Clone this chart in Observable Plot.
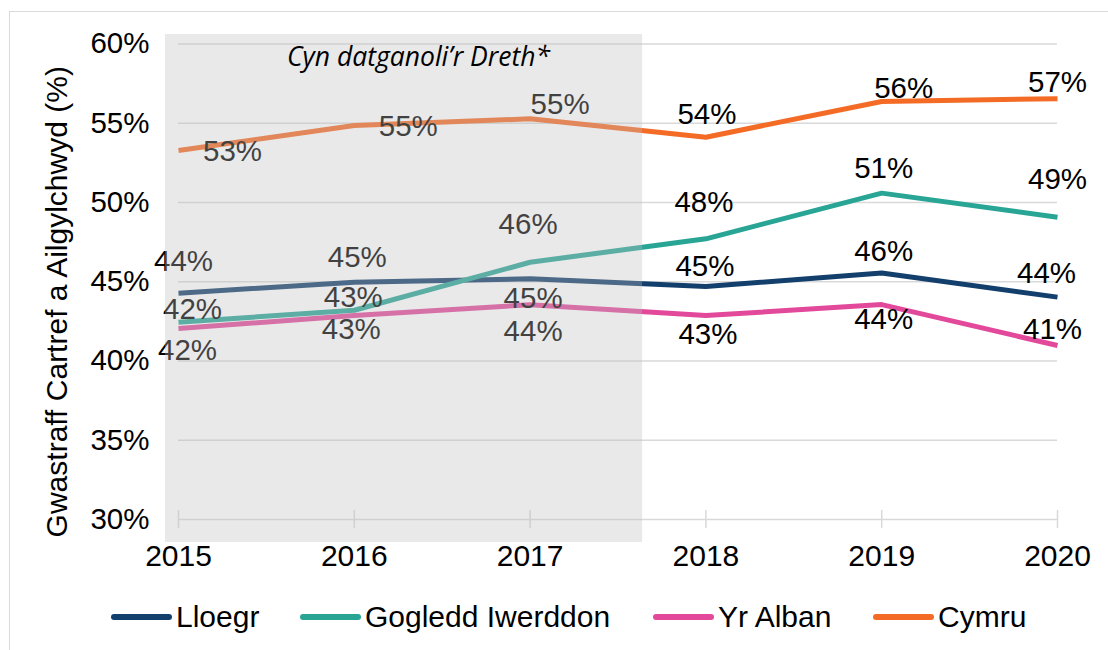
<!DOCTYPE html>
<html>
<head>
<meta charset="utf-8">
<script src="https://cdn.jsdelivr.net/npm/d3@7"></script>
<script src="https://cdn.jsdelivr.net/npm/@observablehq/plot@0.6"></script>
<style>
  body { margin: 0; background: #fff; }
  #wrap { position: relative; width: 1108px; height: 650px; overflow: hidden; font-family: "Liberation Sans", Arial, sans-serif; background:#fff; }
  #frame { position: absolute; left: 9px; top: 11px; width: 1300px; height: 900px; border-left: 1.5px solid #d9d9d9; border-top: 1.5px solid #d9d9d9; }
  #chart { position: absolute; left: 0; top: 0; }
  #legend { position: absolute; top: 600px; left: 0; width: 1108px; height: 34px; font-size: 30px; line-height: 34px; color: #000; }
  .item { position: absolute; top: 0; display: flex; align-items: center; height: 34px; }
  .sw { width: 61px; height: 6px; border-radius: 3px; margin-right: 4px; }
</style>
</head>
<body>
<div id="wrap">
  <div id="frame"></div>
  <div id="chart"></div>
  <div id="legend"></div>
</div>
<script>
// ---- data ----
const years = [2015, 2016, 2017, 2018, 2019, 2020];
const seriesNames = ["Lloegr", "Gogledd Iwerddon", "Yr Alban", "Cymru"];
const lloegr  = [44.28, 44.97, 45.19, 44.70, 45.55, 44.03];
const gogledd = [42.45, 43.20, 46.23, 47.71, 50.59, 49.07];
const yrAlban = [42.05, 42.87, 43.55, 42.87, 43.56, 40.98];
const cymru   = [53.28, 54.86, 55.28, 54.12, 56.37, 56.55];
const yTicks = [30, 35, 40, 45, 50, 55, 60];
const yTitle = "Gwastraff Cartref a Ailgylchwyd (%)";
const annotation = "Cyn datganoli\u2019r Dreth*";
const preTaxPeriod = {start: 2015, end: 2017.64};

// ---- style / layout ----
const colors = ["#123f6b", "#29a596", "#e2499b", "#f46b26"];
const FONT = "Liberation Sans, Arial, sans-serif";
const legendLeft = [111, 300, 653, 873];
// label offsets (dx, dy in px) from each point to its label centre
const labelOffsets = {
  "Lloegr":           [[5,-32],[3,-25],[3,20],[-1,-20],[2,-21],[-11,-24]],
  "Gogledd Iwerddon": [[14,-13],[-1,-13],[-2,-38],[-2,-36],[2,-25],[0,-38]],
  "Yr Alban":         [[9,22],[-3,14],[3,27],[2,19],[2,15],[-5,-16]],
  "Cymru":            [[54,1],[54,1],[30,-14],[1,-23],[22,-13],[0,-16]]
};

const seriesValues = [lloegr, gogledd, yrAlban, cymru];
const rows = seriesNames.flatMap((s, k) => years.map((yr, i) => ({series: s, year: yr, value: seriesValues[k][i], i})));

const labelMarks = rows.map(r => Plot.text([r], {
  x: "year", y: "value", text: d => Math.round(d.value) + "%",
  dx: labelOffsets[r.series][r.i][0], dy: labelOffsets[r.series][r.i][1],
  fontSize: 29.5, fontFamily: FONT, fill: "#000", textAnchor: "middle", lineAnchor: "middle"
}));

const H = 580, mTop = 43.5, mBottom = 61, mLeft = 178, mRight = 51;

const chart = Plot.plot({
  width: 1108, height: H,
  marginTop: mTop, marginBottom: mBottom, marginLeft: mLeft, marginRight: mRight,
  style: {fontFamily: FONT, color: "#000", background: "transparent", overflow: "visible"},
  x: {type: "linear", domain: [2015, 2020]},
  y: {domain: [30, 60]},
  color: {domain: seriesNames, range: colors},
  marks: [
    Plot.gridY(yTicks, {stroke: "#d9d9d9", strokeOpacity: 1, strokeWidth: 1.5}),
    Plot.ruleX(years, {x: d => d, y1: 30, y2: 30, insetTop: -9, insetBottom: -9, stroke: "#d9d9d9", strokeWidth: 1.5}),
    Plot.line(rows, {x: "year", y: "value", z: "series", stroke: "series", strokeWidth: 5, strokeLinejoin: "round", strokeLinecap: "butt"}),
    ...labelMarks,
    Plot.rect([preTaxPeriod], {x1: "start", x2: "end", y1: 30, y2: 60, insetLeft: -13, insetTop: -9.5, insetBottom: -23, fill: "rgb(190,190,190)", fillOpacity: 0.34}),
    Plot.text([annotation], {frameAnchor: "top-left", dx: 240, dy: 13.5, textAnchor: "middle", lineAnchor: "middle", fontStyle: "italic", fontFamily: "Open Sans, sans-serif", fontSize: 26.5, fill: "#000"}),
    Plot.axisY({ticks: yTicks, tickFormat: d => d + "%", tickSize: 0, tickPadding: 29, fontSize: 29.5, label: null}),
    Plot.axisX({ticks: years, tickFormat: d => String(d), tickSize: 0, tickPadding: 25, fontSize: 30, label: null}),
    Plot.text([yTitle], {frameAnchor: "left", rotate: -90, dx: -121, dy: 20, textAnchor: "middle", lineAnchor: "middle", fontSize: 30, fontFamily: FONT, fill: "#000"})
  ]
});
document.getElementById("chart").appendChild(chart);

const legend = document.getElementById("legend");
seriesNames.forEach((s, k) => {
  const it = document.createElement("div"); it.className = "item"; it.style.left = legendLeft[k] + "px";
  const sw = document.createElement("span"); sw.className = "sw"; sw.style.background = colors[k];
  const lb = document.createElement("span"); lb.textContent = s;
  it.appendChild(sw); it.appendChild(lb); legend.appendChild(it);
});
</script>
</body>
</html>
